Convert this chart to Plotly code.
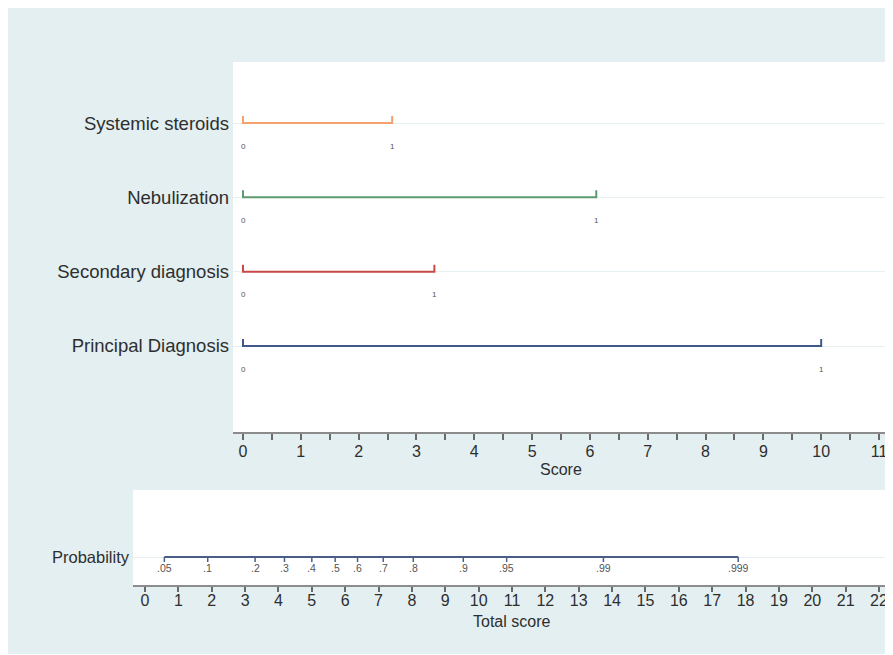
import plotly.graph_objects as go

# ---------------- data ----------------
variables = ["Systemic steroids", "Nebulization", "Secondary diagnosis", "Principal Diagnosis"]
max_points = [2.58, 6.11, 3.31, 10.0]
level_labels = ["0", "1"]
line_colors = ["#f4a26c", "#5c9a70", "#c94848", "#41598a"]

score_ticks = list(range(0, 12))
total_ticks = list(range(0, 23))

prob_labels = [".05", ".1", ".2", ".3", ".4", ".5", ".6", ".7", ".8", ".9", ".95", ".99", ".999"]
prob_positions = [0.58, 1.88, 3.30, 4.18, 5.00, 5.70, 6.37, 7.14, 8.04, 9.54, 10.84, 13.74, 17.78]

# ---------------- layout geometry ----------------
W, H = 885, 646          # page body has an 8px margin
OX, OY = 8, 8
BG = "#e3eff1"
TXT = "#2e2e2e"
FONT = "Liberation Sans, Arial"

def px_x(px):
    return (px - OX) / W

def px_y(py):
    return 1 - (py - OY) / H

top_dom_x = [px_x(233), px_x(889)]
top_dom_y = [px_y(432), px_y(62)]
bot_dom_x = [px_x(133), px_x(889)]
bot_dom_y = [px_y(585), px_y(490)]

top_yrange = [-0.157, 4.821]
bot_yrange = [-1.4, 3.35]

top_unit_per_px = (top_yrange[1] - top_yrange[0]) / (432 - 62)
bot_unit_per_px = (bot_yrange[1] - bot_yrange[0]) / (585 - 490)

fig = go.Figure()

n = len(variables)
rows = [n - i for i in range(n)]
tick_up = 7 * top_unit_per_px

for name, mx, col, r in zip(variables, max_points, line_colors, rows):
    fig.add_trace(go.Scatter(
        x=[0, 0, mx, mx], y=[r + tick_up, r, r, r + tick_up],
        mode="lines", line=dict(color=col, width=2),
        hoverinfo="skip", showlegend=False, xaxis="x", yaxis="y"))
    for val, lab in zip([0, mx], level_labels):
        fig.add_annotation(x=val, y=r, xref="x", yref="y", text=lab,
                           showarrow=False, yshift=-23,
                           font=dict(size=8, color="#555555", family=FONT))

# probability line
tick_dn = 5 * bot_unit_per_px
fig.add_trace(go.Scatter(x=[prob_positions[0], prob_positions[-1]], y=[0, 0], mode="lines",
                         line=dict(color="#4a5f88", width=2),
                         hoverinfo="skip", showlegend=False, xaxis="x2", yaxis="y2"))
tx, ty = [], []
for p in prob_positions:
    tx += [p, p, None]
    ty += [0, -tick_dn, None]
fig.add_trace(go.Scatter(x=tx, y=ty, mode="lines",
                         line=dict(color="#4a5f88", width=1.5),
                         hoverinfo="skip", showlegend=False, xaxis="x2", yaxis="y2"))
for p, lab in zip(prob_positions, prob_labels):
    fig.add_annotation(x=p, y=0, xref="x2", yref="y2", text=lab, showarrow=False,
                       yshift=-11, font=dict(size=10.5, color="#555555", family=FONT))

# axis titles
fig.add_annotation(x=0.5, y=0, xref="x domain", yref="y domain", text="Score",
                   showarrow=False, yanchor="middle", yshift=-37,
                   font=dict(size=16, color=TXT, family=FONT))
fig.add_annotation(x=0.5, y=0, xref="x2 domain", yref="y2 domain", text="Total score",
                   showarrow=False, yanchor="middle", yshift=-36,
                   font=dict(size=16, color=TXT, family=FONT))

axis_common = dict(showline=True, linecolor="#8c8c8c", linewidth=2, ticks="outside",
                   tickwidth=1.5, tickcolor="#6a6a6a", showgrid=False,
                   zeroline=False, automargin=False,
                   tickfont=dict(size=16, color=TXT, family=FONT))

fig.update_layout(
    width=W, height=H,
    margin=dict(l=0, r=0, t=0, b=0),
    paper_bgcolor=BG, plot_bgcolor="white",
    font=dict(family=FONT, color=TXT),
    xaxis=dict(domain=top_dom_x, range=[-10 / 57.8, 11 + 10 / 57.8],
               tickvals=score_ticks, ticklen=6,
               minor=dict(dtick=0.5, ticklen=6, tickwidth=1.5,
                          tickcolor="#6a6a6a", ticks="outside"),
               anchor="y", ticklabelstandoff=-2, **axis_common),
    yaxis=dict(domain=top_dom_y, range=top_yrange, tickvals=rows, ticktext=variables,
               showgrid=True, gridcolor="#e6eff1", gridwidth=1, showline=False,
               zeroline=False, ticks="", automargin=False, anchor="x",
               ticklabelstandoff=3,
               tickfont=dict(size=18.5, color=TXT, family=FONT)),
    xaxis2=dict(domain=bot_dom_x, range=[-12 / 33.36, 22 + 10 / 33.36],
                tickvals=total_ticks, ticklen=5, anchor="y2", ticklabelstandoff=-5,
                **axis_common),
    yaxis2=dict(domain=bot_dom_y, range=bot_yrange, tickvals=[0], ticktext=["Probability"],
                showgrid=True, gridcolor="#e6eff1", gridwidth=1, showline=False,
                zeroline=False, ticks="", automargin=False, anchor="x2",
                ticklabelstandoff=3,
                tickfont=dict(size=16.5, color=TXT, family=FONT)),
)

fig.write_html("out.html")
